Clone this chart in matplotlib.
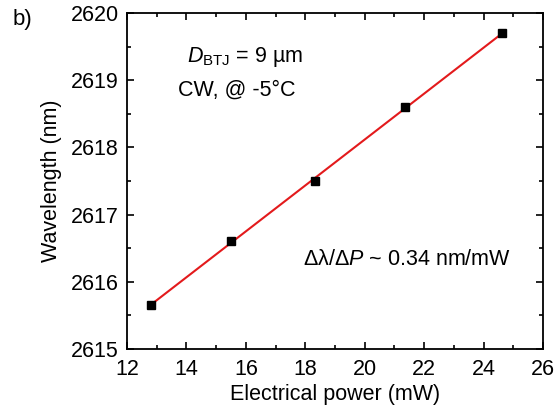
import numpy as np
import matplotlib
matplotlib.use("Agg")
import matplotlib.pyplot as plt
from matplotlib.ticker import MultipleLocator

plt.rcParams['font.family'] = ['Liberation Sans', 'DejaVu Sans']
plt.rcParams['mathtext.fontset'] = 'custom'
plt.rcParams['mathtext.rm'] = 'Liberation Sans'
plt.rcParams['mathtext.it'] = 'Liberation Sans:italic'

power_mw = [12.8, 15.5, 18.33, 21.36, 24.63]
wavelength_nm = [2615.66, 2616.6, 2617.5, 2618.6, 2619.7]

FS = 15.5

fig = plt.figure(figsize=(5.58, 4.05), dpi=100)
ax = fig.add_axes([0.2276, 0.1383, 0.7454, 0.8297])

p = np.polyfit(power_mw, wavelength_nm, 1)
xf = np.array([power_mw[0], power_mw[-1]])
ax.plot(xf, np.polyval(p, xf), color='#e31a1c', lw=1.5, zorder=2)
ax.plot(power_mw, wavelength_nm, 's', color='black', ms=6.3, zorder=3)

ax.set_xlim(12, 26)
ax.set_ylim(2615, 2620)
ax.xaxis.set_major_locator(MultipleLocator(2))
ax.xaxis.set_minor_locator(MultipleLocator(1))
ax.yaxis.set_major_locator(MultipleLocator(1))
ax.yaxis.set_minor_locator(MultipleLocator(0.5))
ax.tick_params(which='both', direction='in', top=True, right=True, width=1.2, labelsize=FS)
ax.tick_params(axis='y', pad=6)
ax.tick_params(axis='x', pad=7)
ax.tick_params(which='major', length=5)
ax.tick_params(which='minor', length=3)
for s in ax.spines.values():
    s.set_linewidth(1.3)

ax.set_xlabel('Electrical power (mW)', fontsize=FS, labelpad=3)
ax.set_ylabel('Wavelength (nm)', fontsize=FS, labelpad=6)

ax.text(0.284, 0.869, r'$\mathit{D}_{\mathrm{BTJ}}$ = 9 µm', transform=ax.transAxes,
        ha='center', va='center', fontsize=FS)
ax.text(0.264, 0.771, 'CW, @ -5°C', transform=ax.transAxes,
        ha='center', va='center', fontsize=FS)
ax.text(0.673, 0.265, r'Δλ/Δ$\mathit{P}$ ~ 0.34 nm/mW', transform=ax.transAxes,
        ha='center', va='center', fontsize=FS)
fig.text(0.022, 0.953, 'b)', fontsize=16, ha='left', va='center')

fig.savefig('out.png', dpi=100)
